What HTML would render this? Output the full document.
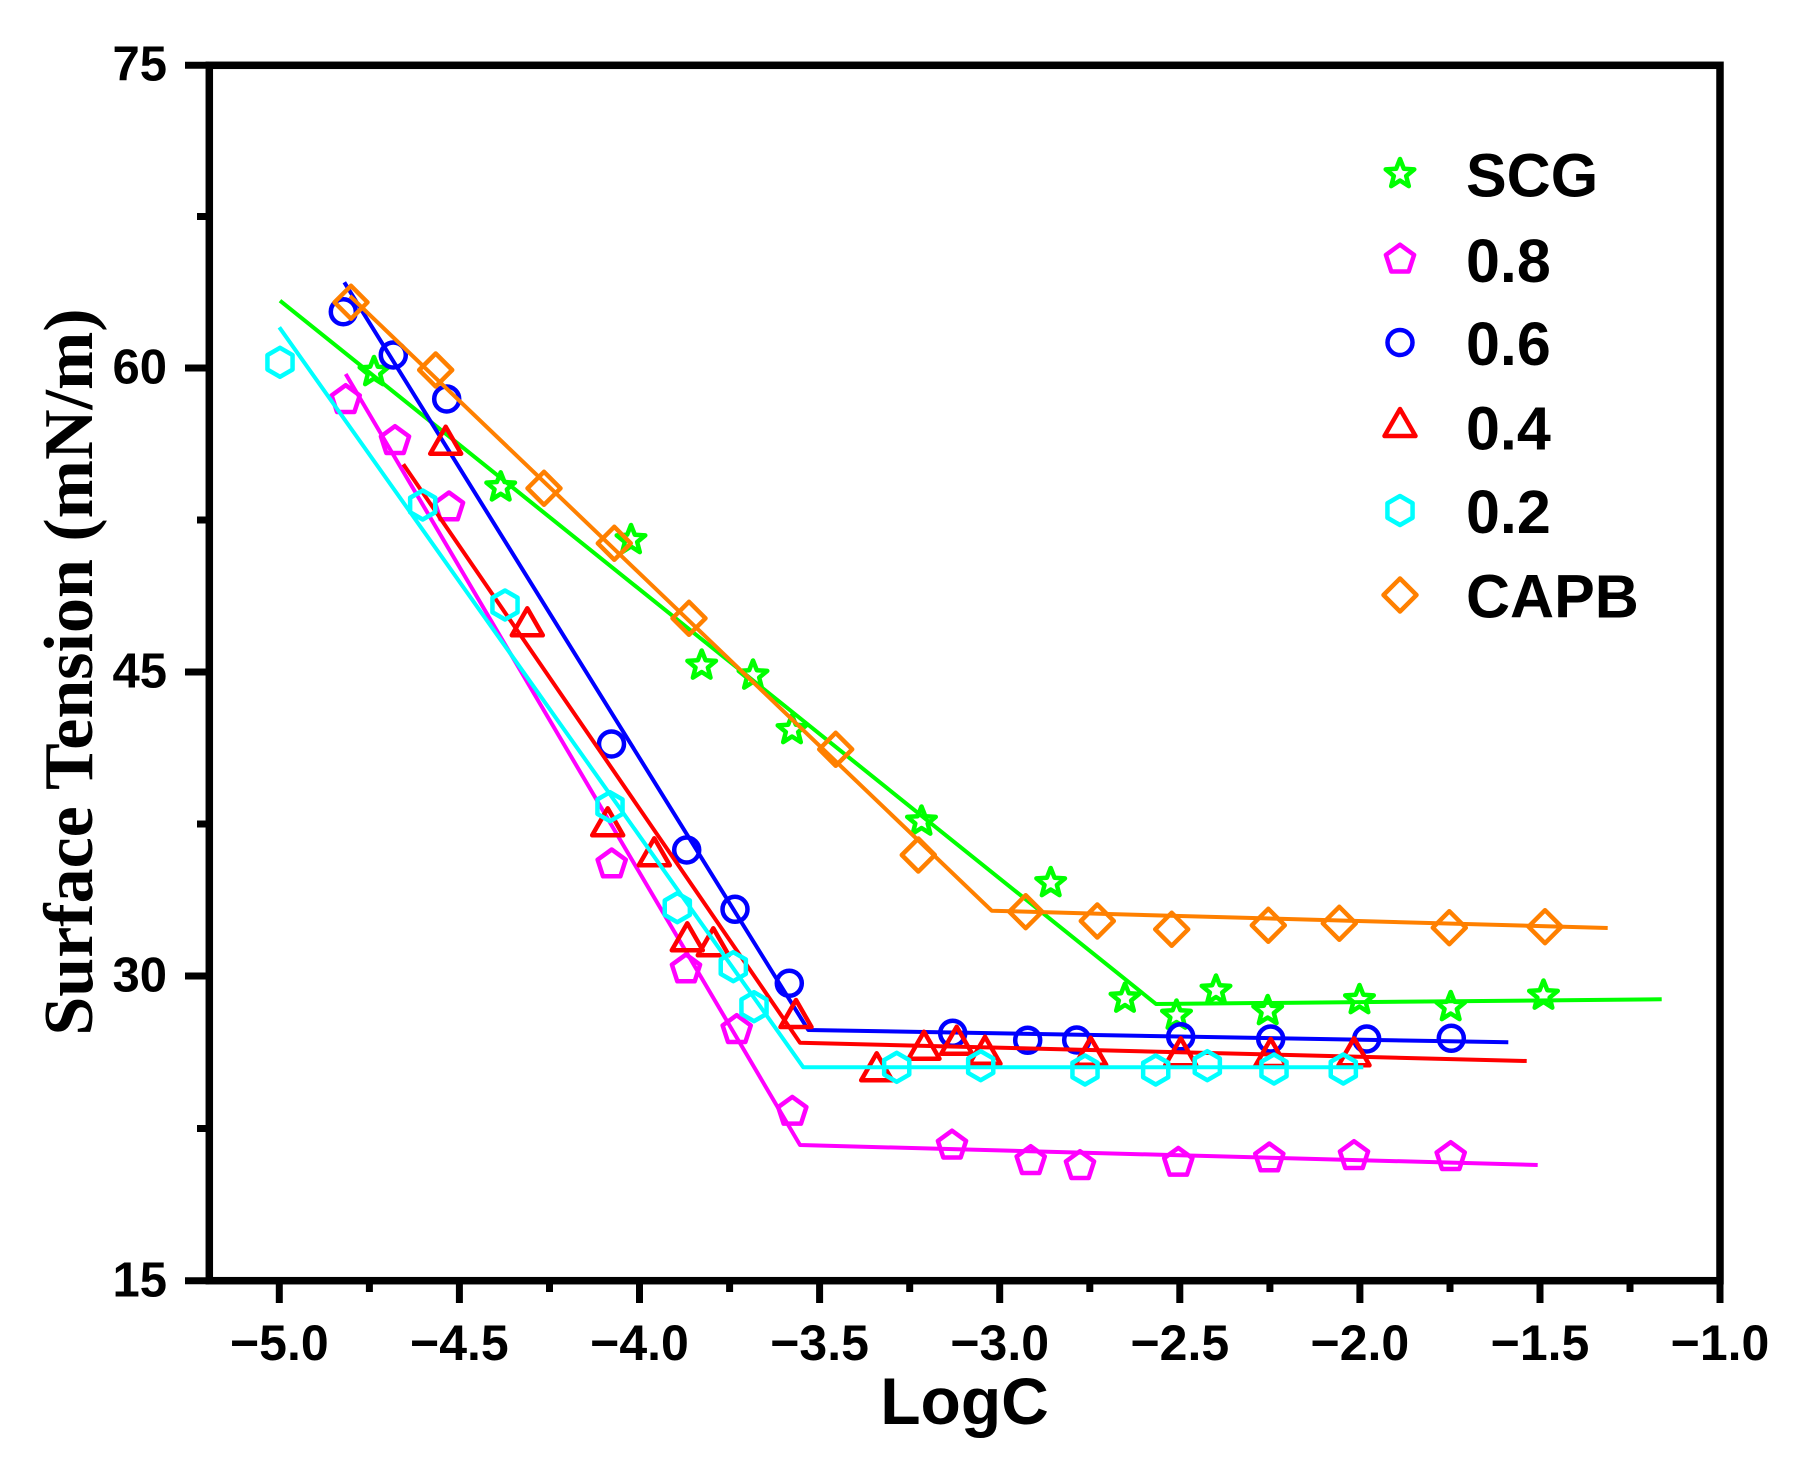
<!DOCTYPE html>
<html>
<head>
<meta charset="utf-8">
<style>
html,body{margin:0;padding:0;background:#fff;}
svg{display:block;}
</style>
</head>
<body>
<svg width="1798" height="1473" viewBox="0 0 1798 1473" xmlns="http://www.w3.org/2000/svg">
<defs>
  <path id="st" d="M0,-15 L3.82,-5.26 L14.27,-4.64 L6.18,2.01 L8.82,12.14 L0,6.5 L-8.82,12.14 L-6.18,2.01 L-14.27,-4.64 L-3.82,-5.26Z"/>
  <path id="pe" d="M0,-14.8 L14.08,-4.57 L8.7,11.97 L-8.7,11.97 L-14.08,-4.57Z"/>
  <circle id="ci" cx="0" cy="0" r="12.5"/>
  <path id="tr" d="M0,-18 L15.5,9 L-15.5,9Z"/>
  <path id="hx" d="M0,-14.5 L12.56,-7.25 L12.56,7.25 L0,14.5 L-12.56,7.25 L-12.56,-7.25Z"/>
  <path id="di" d="M0,-16.5 L16.5,0 L0,16.5 L-16.5,0Z"/>
</defs>

<rect x="0" y="0" width="1798" height="1473" fill="#fff"/>

<g fill="none" stroke-width="4.5" stroke-linejoin="round">
  <!-- SCG -->
  <g stroke="#00ff00">
    <polyline stroke-width="4" points="280,300.7 1156,1004 1661.7,999.3"/>
    <use href="#st" x="374" y="372"/>
    <use href="#st" x="500.7" y="487.3"/>
    <use href="#st" x="631" y="540"/>
    <use href="#st" x="701.7" y="665.5"/>
    <use href="#st" x="753" y="675.5"/>
    <use href="#st" x="792" y="730"/>
    <use href="#st" x="921.5" y="821.5"/>
    <use href="#st" x="1050.7" y="883"/>
    <use href="#st" x="1125" y="998.5"/>
    <use href="#st" x="1176.5" y="1015.5"/>
    <use href="#st" x="1216" y="990.5"/>
    <use href="#st" x="1267.7" y="1011"/>
    <use href="#st" x="1359.5" y="1000"/>
    <use href="#st" x="1450.7" y="1007"/>
    <use href="#st" x="1543.5" y="995.5"/>
  </g>
  <!-- 0.8 -->
  <g stroke="#ff00ff">
    <polyline stroke-width="4" points="345.7,374 800,1145 1537.7,1165"/>
    <use href="#pe" x="345.7" y="400"/>
    <use href="#pe" x="395" y="441"/>
    <use href="#pe" x="449" y="507.3"/>
    <use href="#pe" x="611.7" y="864.3"/>
    <use href="#pe" x="686" y="969.3"/>
    <use href="#pe" x="736.7" y="1030"/>
    <use href="#pe" x="792.3" y="1111.7"/>
    <use href="#pe" x="952" y="1145.5"/>
    <use href="#pe" x="1030.7" y="1161"/>
    <use href="#pe" x="1080" y="1166"/>
    <use href="#pe" x="1178.3" y="1162.7"/>
    <use href="#pe" x="1269.3" y="1158.3"/>
    <use href="#pe" x="1354" y="1156"/>
    <use href="#pe" x="1450.7" y="1157"/>
  </g>
  <!-- 0.6 -->
  <g stroke="#0000ff">
    <polyline stroke-width="4" points="344.3,282.3 808.3,1030 1508.3,1042.3"/>
    <use href="#ci" x="343.3" y="311.7"/>
    <use href="#ci" x="393.3" y="355"/>
    <use href="#ci" x="446.7" y="399"/>
    <use href="#ci" x="611.5" y="744"/>
    <use href="#ci" x="686.7" y="850"/>
    <use href="#ci" x="735" y="909.3"/>
    <use href="#ci" x="789.3" y="983.3"/>
    <use href="#ci" x="952.7" y="1033.3"/>
    <use href="#ci" x="1027.7" y="1040.3"/>
    <use href="#ci" x="1076.7" y="1040"/>
    <use href="#ci" x="1180.7" y="1036.7"/>
    <use href="#ci" x="1270.7" y="1039"/>
    <use href="#ci" x="1366.7" y="1039"/>
    <use href="#ci" x="1451.3" y="1038.3"/>
  </g>
  <!-- 0.4 -->
  <g stroke="#ff0000">
    <polyline stroke-width="4" points="403.3,464.3 800,1042.7 1526.7,1061"/>
    <use href="#tr" x="445.7" y="444.7"/>
    <use href="#tr" x="527.3" y="626.3"/>
    <use href="#tr" x="607.7" y="826.3"/>
    <use href="#tr" x="654.3" y="856.3"/>
    <use href="#tr" x="687.3" y="941.3"/>
    <use href="#tr" x="713.3" y="946.3"/>
    <use href="#tr" x="796" y="1018"/>
    <use href="#tr" x="876.7" y="1071.3"/>
    <use href="#tr" x="924" y="1049.7"/>
    <use href="#tr" x="956.7" y="1044.7"/>
    <use href="#tr" x="985" y="1054.7"/>
    <use href="#tr" x="1090.7" y="1055.7"/>
    <use href="#tr" x="1180.7" y="1056.3"/>
    <use href="#tr" x="1270.7" y="1057"/>
    <use href="#tr" x="1354" y="1056.3"/>
  </g>
  <!-- 0.2 -->
  <g stroke="#00ffff">
    <polyline stroke-width="4" points="279.3,327.3 803.3,1067.3 1363.3,1067.3"/>
    <use href="#hx" x="280" y="362.3"/>
    <use href="#hx" x="422.7" y="505"/>
    <use href="#hx" x="505" y="605"/>
    <use href="#hx" x="610" y="806.7"/>
    <use href="#hx" x="677.3" y="907.7"/>
    <use href="#hx" x="733.3" y="966.7"/>
    <use href="#hx" x="754" y="1006.7"/>
    <use href="#hx" x="896.7" y="1067.3"/>
    <use href="#hx" x="980.7" y="1065.7"/>
    <use href="#hx" x="1085" y="1070"/>
    <use href="#hx" x="1155.7" y="1070"/>
    <use href="#hx" x="1207.3" y="1065.7"/>
    <use href="#hx" x="1274" y="1069"/>
    <use href="#hx" x="1343.3" y="1069"/>
  </g>
  <!-- CAPB -->
  <g stroke="#ff8000">
    <polyline stroke-width="4" points="350,296 991.7,910.7 1607.7,928"/>
    <use href="#di" x="351" y="302.3"/>
    <use href="#di" x="435.7" y="370"/>
    <use href="#di" x="544" y="488.3"/>
    <use href="#di" x="614.3" y="543.3"/>
    <use href="#di" x="689" y="618.3"/>
    <use href="#di" x="835.7" y="749.3"/>
    <use href="#di" x="918.3" y="855"/>
    <use href="#di" x="1025.7" y="911.7"/>
    <use href="#di" x="1097.3" y="921"/>
    <use href="#di" x="1171.7" y="929.3"/>
    <use href="#di" x="1268.3" y="925.3"/>
    <use href="#di" x="1339.3" y="923.3"/>
    <use href="#di" x="1449.3" y="927.7"/>
    <use href="#di" x="1545" y="926.7"/>
  </g>

  <!-- legend markers -->
  <use href="#st" x="1400" y="174" stroke="#00ff00"/>
  <use href="#pe" x="1400" y="259.5" stroke="#ff00ff"/>
  <use href="#ci" x="1400" y="342.5" stroke="#0000ff"/>
  <use href="#tr" x="1400" y="427" stroke="#ff0000"/>
  <use href="#hx" x="1400" y="510.5" stroke="#00ffff"/>
  <use href="#di" x="1400" y="595" stroke="#ff8000"/>
</g>

<!-- axes frame -->
<rect x="209.3" y="65.3" width="1510.7" height="1215.4" fill="none" stroke="#000" stroke-width="7.5"/>

<!-- y ticks -->
<g stroke="#000" stroke-width="7">
  <line x1="185" y1="65.3" x2="209" y2="65.3"/>
  <line x1="185" y1="368" x2="209" y2="368"/>
  <line x1="185" y1="672" x2="209" y2="672"/>
  <line x1="185" y1="976" x2="209" y2="976"/>
  <line x1="185" y1="1280.7" x2="209" y2="1280.7"/>
  <line x1="197" y1="216.5" x2="209" y2="216.5"/>
  <line x1="197" y1="520" x2="209" y2="520"/>
  <line x1="197" y1="824" x2="209" y2="824"/>
  <line x1="197" y1="1128.5" x2="209" y2="1128.5"/>
</g>
<!-- x ticks -->
<g stroke="#000" stroke-width="7">
  <line x1="279.3" y1="1281" x2="279.3" y2="1303"/>
  <line x1="459.4" y1="1281" x2="459.4" y2="1303"/>
  <line x1="639.5" y1="1281" x2="639.5" y2="1303"/>
  <line x1="819.6" y1="1281" x2="819.6" y2="1303"/>
  <line x1="999.7" y1="1281" x2="999.7" y2="1303"/>
  <line x1="1179.8" y1="1281" x2="1179.8" y2="1303"/>
  <line x1="1359.9" y1="1281" x2="1359.9" y2="1303"/>
  <line x1="1540" y1="1281" x2="1540" y2="1303"/>
  <line x1="1720" y1="1281" x2="1720" y2="1303"/>
  <line x1="369.4" y1="1281" x2="369.4" y2="1292"/>
  <line x1="549.5" y1="1281" x2="549.5" y2="1292"/>
  <line x1="729.6" y1="1281" x2="729.6" y2="1292"/>
  <line x1="909.7" y1="1281" x2="909.7" y2="1292"/>
  <line x1="1089.8" y1="1281" x2="1089.8" y2="1292"/>
  <line x1="1269.9" y1="1281" x2="1269.9" y2="1292"/>
  <line x1="1450" y1="1281" x2="1450" y2="1292"/>
  <line x1="1630" y1="1281" x2="1630" y2="1292"/>
</g>

<!-- y tick labels -->
<g font-family="'Liberation Sans', Arial, sans-serif" font-weight="bold" font-size="49" text-anchor="end" fill="#000">
  <text x="167" y="80.5">75</text>
  <text x="167" y="383.5">60</text>
  <text x="167" y="687.5">45</text>
  <text x="167" y="991.5">30</text>
  <text x="167" y="1296.5">15</text>
</g>
<!-- x tick labels -->
<g font-family="'Liberation Sans', Arial, sans-serif" font-weight="bold" font-size="50" text-anchor="middle" fill="#000">
  <text x="279.3" y="1360">−5.0</text>
  <text x="459.4" y="1360">−4.5</text>
  <text x="639.5" y="1360">−4.0</text>
  <text x="819.6" y="1360">−3.5</text>
  <text x="999.7" y="1360">−3.0</text>
  <text x="1179.8" y="1360">−2.5</text>
  <text x="1359.9" y="1360">−2.0</text>
  <text x="1540" y="1360">−1.5</text>
  <text x="1720" y="1360">−1.0</text>
</g>

<!-- axis titles -->
<text x="964.5" y="1424" font-family="'Liberation Sans', Arial, sans-serif" font-weight="bold" font-size="66" text-anchor="middle" fill="#000">LogC</text>
<text transform="translate(92,672) rotate(-90)" font-family="'Liberation Serif', 'Times New Roman', serif" font-weight="bold" font-size="70" text-anchor="middle" fill="#000">Surface Tension (mN/m)</text>

<!-- legend text -->
<g font-family="'Liberation Sans', Arial, sans-serif" font-weight="bold" font-size="61" fill="#000">
  <text x="1466" y="196.5">SCG</text>
  <text x="1466" y="282">0.8</text>
  <text x="1466" y="365">0.6</text>
  <text x="1466" y="449.5">0.4</text>
  <text x="1466" y="533">0.2</text>
  <text x="1466" y="617.5">CAPB</text>
</g>
</svg>
</body>
</html>
